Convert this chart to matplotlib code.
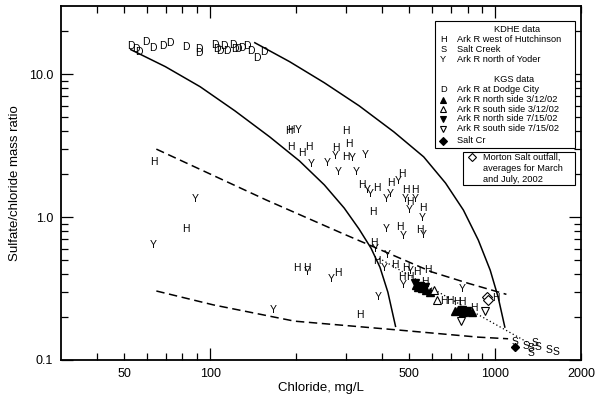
import matplotlib
matplotlib.use('Agg')
import matplotlib.pyplot as plt
import matplotlib.ticker as ticker
from matplotlib.patches import Rectangle

plt.rcParams['font.family'] = ['Liberation Sans', 'DejaVu Sans']

# KDHE data (chloride mg/L, sulfate/chloride mass ratio)
hutch_cl = [63.4, 82.3, 188.5, 191.5, 192.6, 210.4, 221.8, 299.5, 307.5, 276.4, 299.5,
            342.1, 383.9, 429.6, 471.6, 484.6, 522.1, 501.6, 558.1, 373.6, 462.9, 543.5,
            201.5, 217.8, 280.0, 335.0, 375.7, 385.8, 443.6, 484.6, 531.8, 579.5, 471.6,
            501.6, 568.9, 658.9, 695.3, 733.1, 763.1, 843.0, 1005.6]
hutch_ratio = [2.42, 0.820, 4.01, 4.08, 3.11, 2.80, 3.08, 4.03, 3.25, 3.03, 2.64,
               1.68, 1.59, 1.72, 2.00, 1.55, 1.55, 1.27, 1.16, 1.08, 0.855, 0.811,
               0.441, 0.439, 0.403, 0.208, 0.654, 0.491, 0.460, 0.437, 0.413, 0.425, 0.381,
               0.381, 0.352, 0.259, 0.259, 0.253, 0.254, 0.231, 0.272]

yoder_cl = [63.4, 88.6, 166.2, 203.1, 226.1, 258.4, 274.2, 315.7, 349.6, 282.7, 324.4,
            356.1, 365.9, 455.5, 416.0, 427.2, 484.6, 525.0, 501.6, 553.6, 416.0, 474.3,
            561.2, 218.7, 265.5, 388.0, 380.9, 418.0, 409.4, 504.5, 475.4, 769.2]
yoder_ratio = [0.636, 1.33, 0.223, 4.08, 2.34, 2.38, 2.68, 2.59, 2.72, 2.07, 2.06,
               1.55, 1.44, 1.79, 1.34, 1.44, 1.34, 1.34, 1.12, 0.989, 0.824, 0.739,
               0.747, 0.411, 0.371, 0.276, 0.596, 0.541, 0.437, 0.418, 0.337, 0.312]

saltck_cl = [1177, 1285, 1338, 1338, 1375, 1418, 1543, 1636]
saltck_ratio = [0.1338, 0.1254, 0.1204, 0.1111, 0.1305, 0.1234, 0.1175, 0.1129]

# KGS data
dodge_cl = [52.9, 54.8, 56.3, 59.4, 63.0, 68.2, 72.5, 82.5, 91.0, 91.0, 104.1, 105.5,
            108.3, 111.9, 114.3, 120.6, 122.2, 125.5, 129.0, 134.2, 138.6, 146.2, 154.2]
dodge_ratio = [15.7, 14.9, 14.2, 16.7, 15.3, 15.7, 16.6, 15.5, 15.0, 14.1, 16.1, 14.9,
               14.5, 15.7, 14.5, 16.1, 15.0, 15.0, 15.3, 15.7, 14.5, 13.0, 14.2]

north_mar_cl = [720, 743, 774, 805, 832, 528, 535, 552, 570, 589]
north_mar_ratio = [0.219, 0.223, 0.217, 0.219, 0.215, 0.333, 0.323, 0.318, 0.307, 0.298]
south_mar_cl = [608, 625]
south_mar_ratio = [0.307, 0.262]
north_jul_cl = [522, 544, 566, 767, 799]
north_jul_ratio = [0.344, 0.331, 0.323, 0.223, 0.221]
south_jul_cl = [760, 923]
south_jul_ratio = [0.188, 0.222]
saltcr_cl = [1171]
saltcr_ratio = [0.1234]

morton_cl = [933, 945]
morton_ratio = [0.276, 0.262]

# envelope and mixing lines
inner_cl = [52.7, 69.7, 92.3, 122.2, 161.9, 205.9, 251.6, 295.4, 333.2, 366.9, 394.3,
            420.4, 447.2]
inner_ratio = [14.86, 11.29, 8.17, 5.54, 3.64, 2.47, 1.68, 1.157, 0.824, 0.606, 0.446,
               0.298, 0.172]
outer_cl = [143.5, 190.0, 251.6, 333.2, 441.0, 561.3, 669.7, 773.6, 872.7, 960.7, 1024.4,
            1081]
outer_ratio = [16.6, 12.24, 8.71, 6.01, 3.95, 2.64, 1.73, 1.12, 0.690, 0.425, 0.275, 0.170]
upper_dash_cl = [64.8, 157.6, 291.4, 600, 805, 1095]
upper_dash_ratio = [2.99, 1.316, 0.768, 0.413, 0.344, 0.288]
lower_dash_cl = [64.8, 102.7, 197.8, 459, 873, 1110]
lower_dash_ratio = [0.304, 0.243, 0.187, 0.162, 0.1445, 0.1408]
dotted_cl = [391, 838, 1378]
dotted_ratio = [0.516, 0.217, 0.1244]

W, H = 600, 399
fig = plt.figure(figsize=(6, 3.99), dpi=100)
ax = fig.add_axes([61 / W, 1 - 360 / H, 520 / W, 354 / H])

ax.plot(inner_cl, inner_ratio, color='black', lw=1.1)
ax.plot(outer_cl, outer_ratio, color='black', lw=1.1)
ax.plot(upper_dash_cl, upper_dash_ratio, color='black', lw=1.1, linestyle=(0, (5.5, 3)))
ax.plot(lower_dash_cl, lower_dash_ratio, color='black', lw=1.1, linestyle=(0, (5.5, 3)))
ax.plot(dotted_cl, dotted_ratio, color='black', lw=0.9, linestyle=(0, (1, 2)))

letter_kw = dict(ha='center', va='center', fontsize=7.5, color='black')
for x, y in zip(dodge_cl, dodge_ratio):
    ax.text(x, y, 'D', **letter_kw)
for x, y in zip(hutch_cl, hutch_ratio):
    ax.text(x, y, 'H', **letter_kw)
for x, y in zip(yoder_cl, yoder_ratio):
    ax.text(x, y, 'Y', **letter_kw)
for x, y in zip(saltck_cl, saltck_ratio):
    ax.text(x, y, 'S', **letter_kw)

ax.plot(north_mar_cl, north_mar_ratio, '^', color='black', ms=5.5, ls='none')
ax.plot(south_mar_cl, south_mar_ratio, '^', mfc='white', mec='black', mew=0.8, ms=5.5, ls='none')
ax.plot(north_jul_cl, north_jul_ratio, 'v', color='black', ms=5.5, ls='none')
ax.plot(south_jul_cl, south_jul_ratio, 'v', mfc='white', mec='black', mew=0.8, ms=5.5, ls='none')
ax.plot(saltcr_cl, saltcr_ratio, 'D', color='black', ms=4.5, ls='none')
ax.plot(morton_cl, morton_ratio, 'D', mfc='white', mec='black', mew=0.8, ms=5, ls='none')

ax.set_xscale('log')
ax.set_yscale('log')
ax.set_xlim(30, 2000)
ax.set_ylim(0.1, 30)

ax.xaxis.set_major_locator(ticker.FixedLocator([100, 1000]))
ax.xaxis.set_minor_locator(ticker.FixedLocator([40, 50, 60, 70, 80, 90, 200, 300, 400, 500,
                                                600, 700, 800, 900, 2000]))
ax.xaxis.set_major_formatter(ticker.FuncFormatter(lambda v, _: f'{v:.0f}'))
ax.xaxis.set_minor_formatter(ticker.FuncFormatter(
    lambda v, _: f'{v:.0f}' if round(v) in (50, 500, 2000) else ''))
ax.yaxis.set_major_locator(ticker.FixedLocator([0.1, 1, 10]))
ax.yaxis.set_minor_locator(ticker.FixedLocator([0.2, 0.3, 0.4, 0.5, 0.6, 0.7, 0.8, 0.9,
                                                2, 3, 4, 5, 6, 7, 8, 9, 20]))
ax.yaxis.set_major_formatter(ticker.FuncFormatter(lambda v, _: f'{v:.1f}'))
ax.yaxis.set_minor_formatter(ticker.NullFormatter())

ax.tick_params(which='both', direction='in', top=True, right=True, width=0.9,
               labelsize=9, pad=5.5)
ax.tick_params(which='major', length=8.5)
ax.tick_params(which='minor', length=5)
for sp in ax.spines.values():
    sp.set_linewidth(1.3)

ax.set_xlabel('Chloride, mg/L', fontsize=9.5, labelpad=2)
ax.set_ylabel('Sulfate/chloride mass ratio', fontsize=9.5, labelpad=6)

# legend boxes, placed in figure pixels
ov = fig.add_axes([0, 0, 1, 1])
ov.set_xlim(0, W)
ov.set_ylim(H, 0)
ov.axis('off')

ov.add_patch(Rectangle((435, 20.7), 140, 127.6, fc='white', ec='black', lw=0.8))
ov.add_patch(Rectangle((463.3, 151.7), 111.7, 33.3, fc='white', ec='black', lw=0.8))

lg = dict(fontsize=6.7, va='center', color='black')
ov.text(516.7, 29.3, 'KDHE data', ha='center', **lg)
ov.text(514, 80, 'KGS data', ha='center', **lg)

letter_rows = [('H', 39.3, 'Ark R west of Hutchinson'),
               ('S', 49.3, 'Salt Creek'),
               ('Y', 60, 'Ark R north of Yoder'),
               ('D', 90, 'Ark R at Dodge City')]
for sym, y, label in letter_rows:
    ov.text(443.3, y, sym, ha='center', **lg)
    ov.text(457.3, y, label, ha='left', **lg)

marker_rows = [('^', 'black', 99.5, 'Ark R north side 3/12/02', 5),
               ('^', 'white', 109.3, 'Ark R south side 3/12/02', 5),
               ('v', 'black', 118.7, 'Ark R north side 7/15/02', 5),
               ('v', 'white', 128.5, 'Ark R south side 7/15/02', 5),
               ('D', 'black', 140.7, 'Salt Cr', 4)]
for m, fc, y, label, ms in marker_rows:
    ov.plot([443.3], [y], m, mfc=fc, mec='black', mew=0.8, ms=ms)
    ov.text(457.3, y, label, ha='left', **lg)

ov.plot([471.7], [157.3], 'D', mfc='white', mec='black', mew=0.8, ms=4.5)
for y, line in zip([157, 168.3, 180], ['Morton Salt outfall,', 'averages for March',
                                       'and July, 2002']):
    ov.text(482.7, y, line, ha='left', **lg)

fig.savefig('out.png', dpi=100)
